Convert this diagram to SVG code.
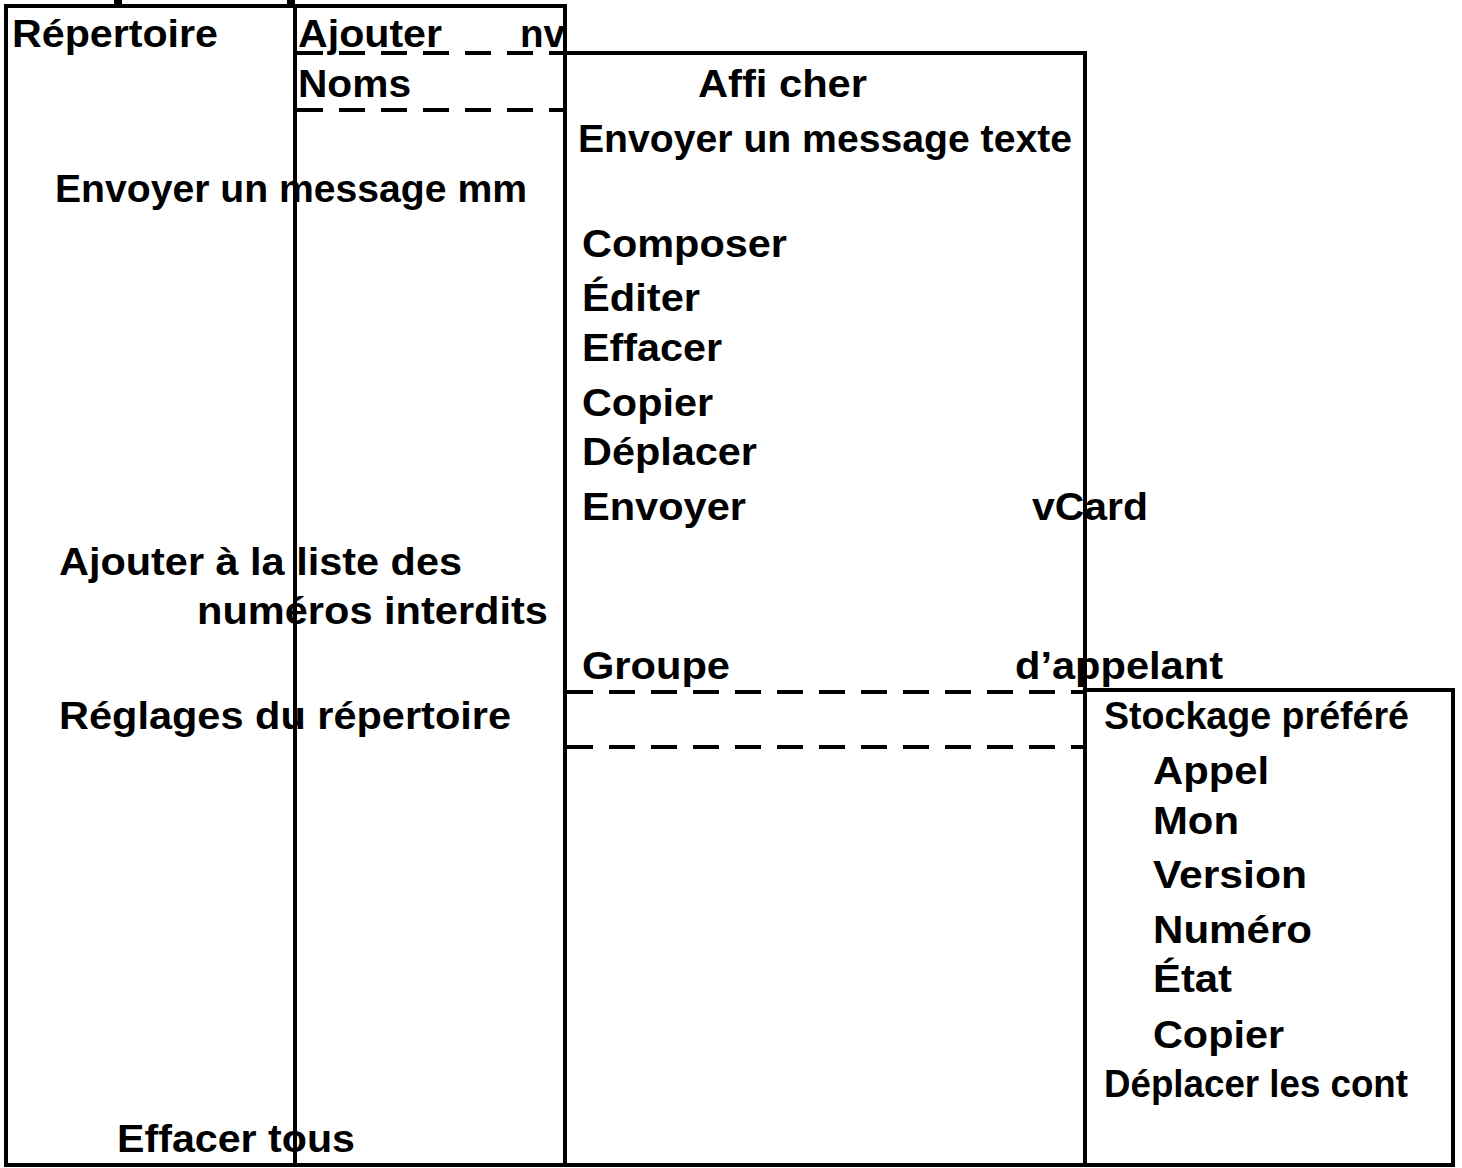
<svg xmlns="http://www.w3.org/2000/svg" width="1462" height="1168" viewBox="0 0 1462 1168">
<style>
.b{fill:none;stroke:#000;stroke-width:4}
.d{fill:none;stroke:#000;stroke-width:4;stroke-dasharray:26,16}
text{font-family:"Liberation Sans",Arial,sans-serif;font-weight:bold;font-size:38px;fill:#000}
</style>
<rect width="1462" height="1168" fill="#fff"/>
<g id="connectors">
<rect x="114" y="0" width="8" height="6" fill="#000"/>
<rect x="287" y="0" width="8" height="6" fill="#000"/>
<line class="d" x1="297" y1="53" x2="563" y2="53"/>
<line class="d" x1="297" y1="110" x2="563" y2="110"/>
<line class="d" x1="567" y1="692" x2="1083" y2="692"/>
<line class="d" x1="567" y1="747" x2="1083" y2="747"/>
</g>
<g id="repertoire">
<rect class="b" x="6" y="6" width="289" height="1159"/>
<text x="12" y="47" textLength="206" lengthAdjust="spacingAndGlyphs">Répertoire</text>
<text x="55" y="202" textLength="472" lengthAdjust="spacingAndGlyphs">Envoyer un message mm</text>
<text x="59" y="575" textLength="403" lengthAdjust="spacingAndGlyphs">Ajouter à la liste des</text>
<text x="197" y="624" textLength="351" lengthAdjust="spacingAndGlyphs">numéros interdits</text>
<text x="59" y="729" textLength="452" lengthAdjust="spacingAndGlyphs">Réglages du répertoire</text>
<text x="117" y="1152" textLength="238" lengthAdjust="spacingAndGlyphs">Effacer tous</text>
</g>
<g id="ajouter">
<rect class="b" x="295" y="6" width="270" height="1159"/>
<text x="298" y="47" textLength="144" lengthAdjust="spacingAndGlyphs">Ajouter</text>
<text x="520" y="47" textLength="45" lengthAdjust="spacingAndGlyphs">nv</text>
<text x="298" y="97" textLength="113" lengthAdjust="spacingAndGlyphs">Noms</text>
</g>
<g id="afficher">
<rect class="b" x="565" y="53" width="520" height="1112"/>
<text x="698" y="97" textLength="169" lengthAdjust="spacingAndGlyphs">Affi cher</text>
<text x="578" y="152" textLength="494" lengthAdjust="spacingAndGlyphs">Envoyer un message texte</text>
<text x="582" y="257" textLength="205" lengthAdjust="spacingAndGlyphs">Composer</text>
<text x="582" y="311" textLength="118" lengthAdjust="spacingAndGlyphs">Éditer</text>
<text x="582" y="361" textLength="140" lengthAdjust="spacingAndGlyphs">Effacer</text>
<text x="582" y="416" textLength="131" lengthAdjust="spacingAndGlyphs">Copier</text>
<text x="582" y="465" textLength="175" lengthAdjust="spacingAndGlyphs">Déplacer</text>
<text x="582" y="520" textLength="164" lengthAdjust="spacingAndGlyphs">Envoyer</text>
<text x="1032" y="520" textLength="116" lengthAdjust="spacingAndGlyphs">vCard</text>
<text x="582" y="679" textLength="148" lengthAdjust="spacingAndGlyphs">Groupe</text>
<text x="1015" y="679" textLength="208" lengthAdjust="spacingAndGlyphs">d’appelant</text>
</g>
<g id="stockage">
<rect class="b" x="1085" y="690" width="368" height="475"/>
<text x="1104" y="729" textLength="305" lengthAdjust="spacingAndGlyphs">Stockage préféré</text>
<text x="1153" y="784" textLength="116" lengthAdjust="spacingAndGlyphs">Appel</text>
<text x="1153" y="834" textLength="86" lengthAdjust="spacingAndGlyphs">Mon</text>
<text x="1153" y="888" textLength="154" lengthAdjust="spacingAndGlyphs">Version</text>
<text x="1153" y="943" textLength="159" lengthAdjust="spacingAndGlyphs">Numéro</text>
<text x="1153" y="992" textLength="79" lengthAdjust="spacingAndGlyphs">État</text>
<text x="1153" y="1048" textLength="131" lengthAdjust="spacingAndGlyphs">Copier</text>
<text x="1104" y="1097" textLength="304" lengthAdjust="spacingAndGlyphs">Déplacer les cont</text>
</g>
</svg>
